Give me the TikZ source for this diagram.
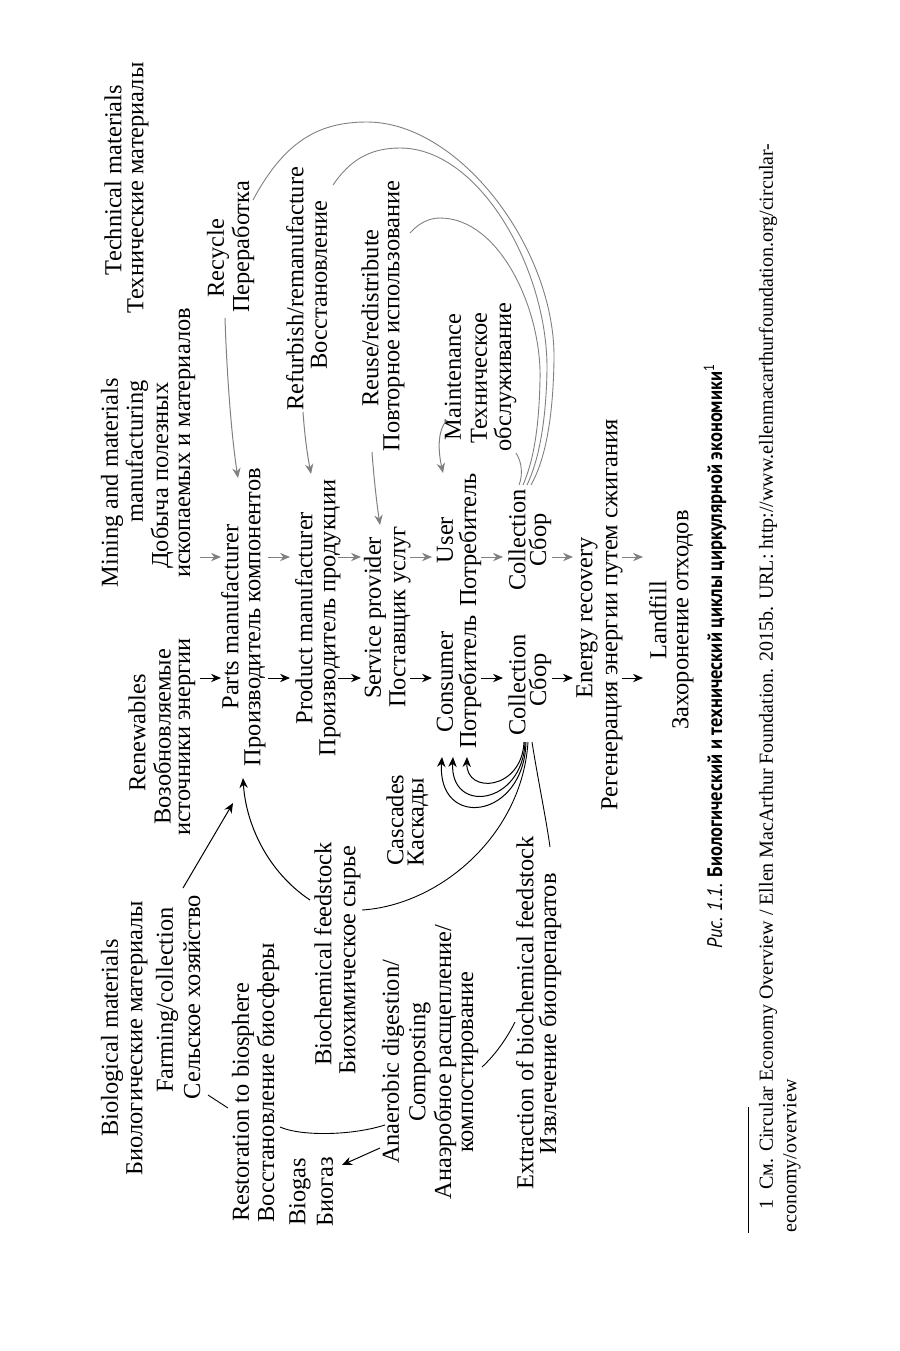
\documentclass[tikz,border=0pt]{standalone}
\usepackage{fontspec}
\setmainfont{Liberation Serif}
\newfontfamily\capfont[FakeStretch=0.88]{PT Sans}
\usetikzlibrary{arrows.meta}
\begin{document}
\begin{tikzpicture}[x=0.5pt,y=-0.5pt,
  lbl/.style={rotate=90,inner sep=0pt,font=\fontsize{12.2}{12.5}\selectfont},
  barr/.style={-{Stealth[length=5pt,width=4.2pt]},black,line width=0.5pt},
  garr/.style={-{Stealth[length=5pt,width=4.2pt]},gray,line width=0.5pt},
  bline/.style={black,line width=0.45pt},
  gline/.style={gray,line width=0.45pt}]
\useasboundingbox (0,0) rectangle (900,1351);

% ---- technical side labels
\node[lbl] (tm1) at (113,180) {Technical materials};
\node[lbl] (tm2) at (138,188) {Технические материалы};
\node[lbl] (rc1) at (218,258) {Recycle};
\node[lbl] (rc2) at (243,247) {Переработка};
\node[lbl] (rf1) at (295,289) {Refurbish/remanufacture};
\node[lbl] (rf2) at (319,285) {Восстановление};
\node[lbl] (ru1) at (370,318) {Reuse/redistribute};
\node[lbl] (ru2) at (394,316) {Повторное использование};
\node[lbl] (mt1) at (453,377) {Maintenance};
\node[lbl] (mt2) at (479,378) {Техническое};
\node[lbl] (mt3) at (505,377) {обслуживание};
\node[lbl,anchor=east] (mn1) at (112,378) {Mining and materials};
\node[lbl,anchor=east] (mn2) at (137,380) {manufacturing};
\node[lbl,anchor=east] (mn3) at (162,382) {Добыча полезных};
\node[lbl] (mn4) at (187,443) {ископаемых и материалов};

% ---- central chain
\node[lbl] (pa1) at (230,617) {Parts manufacturer};
\node[lbl] (pa2) at (255,617) {Производитель компонентов};
\node[lbl] (pr1) at (304,618) {Product manufacturer};
\node[lbl] (pr2) at (330,618) {Производитель продукции};
\node[lbl] (sp1) at (375,618) {Service provider};
\node[lbl] (sp2) at (400,617) {Поставщик услуг};
\node[lbl] (us1) at (445,540) {User};
\node[lbl] (us2) at (470,540) {Потребитель};
\node[lbl] (cs1) at (445,682) {Consumer};
\node[lbl] (cs2) at (470,682) {Потребитель};
\node[lbl] (ct1) at (517,540) {Collection};
\node[lbl] (ct2) at (540,540) {Сбор};
\node[lbl] (cb1) at (517,685) {Collection};
\node[lbl] (cb2) at (540,680) {Сбор};
\node[lbl] (er1) at (587,618) {Energy recovery};
\node[lbl] (er2) at (612,615) {Регенерация энергии путем сжигания};
\node[lbl] (lf1) at (658,620) {Landfill};
\node[lbl] (lf2) at (683,620) {Захоронение отходов};

% ---- biological side labels
\node[lbl] (rn1) at (137,733) {Renewables};
\node[lbl] (rn2) at (162,737) {Возобновляемые};
\node[lbl] (rn3) at (187,737) {источники энергии};
\node[lbl] (bm1) at (112,1038) {Biological materials};
\node[lbl] (bm2) at (137,1038) {Биологические материалы};
\node[lbl] (fa1) at (167,1000) {Farming/collection};
\node[lbl] (fa2) at (192,997) {Сельское хозяйство};
\node[lbl,anchor=west] (rs1) at (243,1222) {Restoration to biosphere};
\node[lbl,anchor=west] (rs2) at (268,1223) {Восстановление биосферы};
\node[lbl] (bf1) at (323,954) {Biochemical feedstock};
\node[lbl] (bf2) at (350,960) {Биохимическое сырье};
\node[lbl] (cc1) at (395,820) {Cascades};
\node[lbl] (cc2) at (418,822) {Каскады};
\node[lbl] (bg1) at (300,1192) {Biogas};
\node[lbl] (bg2) at (325,1192) {Биогаз};
\node[lbl] (ad1) at (393,1062) {Anaerobic digestion/};
\node[lbl] (ad2) at (420,1062) {Composting};
\node[lbl] (ad3) at (445,1062) {Анаэробное расщепление/};
\node[lbl] (ad4) at (470,1062) {компостирование};
\node[lbl] (ex1) at (525,1013) {Extraction of biochemical feedstock};
\node[lbl] (ex2) at (550,1014) {Извлечение биопрепаратов};

% ---- caption and footnote
\node[rotate=90,inner sep=0pt,font=\capfont\fontsize{10.5}{12}\selectfont] (cap) at (715,656)
  {\textit{Рис. 1.1.} \textbf{Биологический и технический циклы циркулярной экономики}\textsuperscript{1}};
\coordinate (fr1) at (748,1107);
\coordinate (fr2) at (748,1233);
\draw[line width=0.5pt] (fr1) -- (fr2);
\node[rotate=90,inner sep=0pt,anchor=west,font=\fontsize{10}{12}\selectfont] (fn1) at (768,1210)
  {1\ \ См. Circular Economy Overview / Ellen MacArthur Foundation. 2015b. URL: http://www.ellenmacarthurfoundation.org/circular-};
\node[rotate=90,inner sep=0pt,anchor=west,font=\fontsize{10}{12}\selectfont] (fn2) at (792,1233)
  {economy/overview};

% ---- straight chain arrows
\foreach \a/\b [count=\i] in {200/221,268/290,338/361,410/432,481/503,552/573,622/643}{
  \coordinate (ga\i) at (\a,557); \coordinate (gb\i) at (\b,557);
  \draw[garr] (ga\i) -- (gb\i);
  \coordinate (ba\i) at (\a,678); \coordinate (bb\i) at (\b,678);
  \draw[barr] (ba\i) -- (bb\i);
}

% ---- technical loops
\coordinate (rcA) at (225,318); \coordinate (rcB) at (238,478);
\draw[garr] (rcA) .. controls (227,380) and (232,440) .. (rcB);
\coordinate (rfA) at (303,412); \coordinate (rfB) at (311,474);
\draw[garr] (rfA) .. controls (305,440) and (308,458) .. (rfB);
\coordinate (ruA) at (372,452); \coordinate (ruB) at (380,525);
\draw[garr] (ruA) .. controls (374,480) and (377,505) .. (ruB);
\coordinate (mtA) at (447,420); \coordinate (mtB) at (443,473);
\draw[garr] (mtA) .. controls (436,432) and (439,455) .. (mtB);

\coordinate (l1a) at (253,200); \coordinate (l1b) at (531,485);
\draw[gline] (l1a) .. controls (285,140) and (320,122) .. (367,122)
  .. controls (460,122) and (556,250) .. (554,360)
  .. controls (553,420) and (545,460) .. (l1b);
\coordinate (l2a) at (333,185); \coordinate (l2b) at (527,485);
\draw[gline] (l2a) .. controls (350,160) and (370,148) .. (400,148)
  .. controls (480,148) and (548,270) .. (547,370)
  .. controls (546,425) and (538,462) .. (l2b);
\coordinate (l3a) at (410,233); \coordinate (l3b) at (523,485);
\draw[gline] (l3a) .. controls (418,224) and (428,218) .. (440,218)
  .. controls (500,218) and (542,310) .. (540,380)
  .. controls (539,430) and (533,462) .. (l3b);
\coordinate (l4a) at (516,453); \coordinate (l4b) at (519,485);
\draw[gline] (l4a) .. controls (522,462) and (523,475) .. (l4b);

% ---- biological loops
\coordinate (faA) at (183,888); \coordinate (faB) at (233,803);
\draw[barr] (faA) -- (faB);
\coordinate (bfA) at (310,900); \coordinate (bfB) at (243,778);
\draw[barr] (bfA) .. controls (268,872) and (246,825) .. (bfB);
\coordinate (bcA) at (362,910); \coordinate (bcB) at (528,742);
\draw[bline] (bcA) .. controls (440,905) and (522,835) .. (bcB);
\coordinate (k1a) at (524,742); \coordinate (k1b) at (467,757);
\draw[barr] (k1a) .. controls (522,790) and (466,795) .. (k1b);
\coordinate (k2a) at (525,742); \coordinate (k2b) at (453,757);
\draw[barr] (k2a) .. controls (523,805) and (450,815) .. (k2b);
\coordinate (k3a) at (526,742); \coordinate (k3b) at (442,757);
\draw[barr] (k3a) .. controls (524,820) and (437,830) .. (k3b);
\coordinate (exA) at (532,742); \coordinate (exB) at (550,847);
\draw[bline] (exA) .. controls (538,780) and (546,818) .. (exB);
\coordinate (coA) at (515,1022); \coordinate (coB) at (482,1067);
\draw[bline] (coA) .. controls (506,1040) and (494,1056) .. (coB);
\coordinate (raA) at (280,1127); \coordinate (raB) at (385,1125);
\draw[bline] (raA) .. controls (300,1136) and (350,1136) .. (raB);
\coordinate (tkA) at (208,1095); \coordinate (tkB) at (228,1108);
\draw[bline] (tkA) -- (tkB);
\coordinate (bgA) at (380,1148); \coordinate (bgB) at (342,1165);
\draw[barr] (bgA) -- (bgB);
\end{tikzpicture}
\end{document}
